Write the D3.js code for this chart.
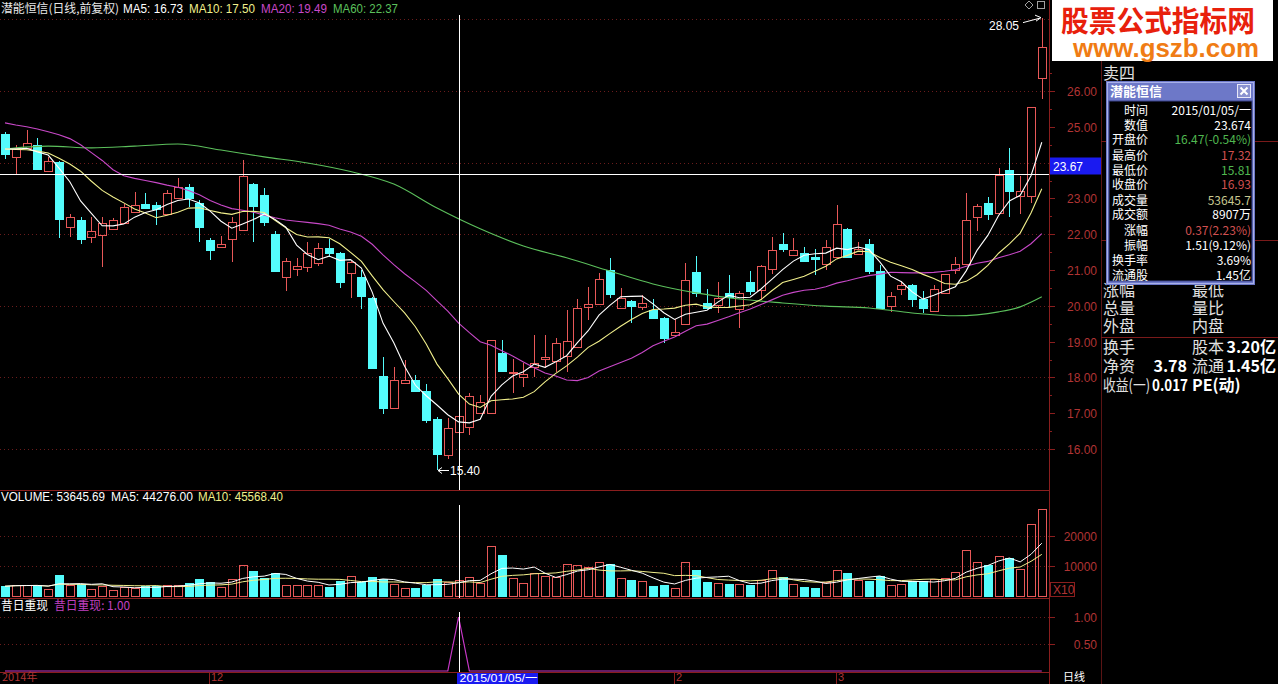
<!DOCTYPE html>
<html><head><meta charset="utf-8">
<script src="https://cdn.jsdelivr.net/npm/d3@7"></script>
<style>html,body{margin:0;padding:0;background:#000;overflow:hidden}svg{display:block}</style>
</head><body>
<svg id="c" width="1278" height="684"></svg>
<script>
// ---------- data ----------
const opens = [24.80,24.15,24.40,24.49,23.77,24.01,22.19,22.40,21.91,21.97,
22.14,22.30,22.63,22.84,22.82,22.56,23.00,23.33,22.88,21.84,
21.65,21.86,22.12,23.40,23.09,22.01,20.81,21.02,21.09,21.20,
21.62,21.48,20.91,20.81,20.23,18.05,17.15,17.84,17.93,17.62,
16.84,15.83,16.47,16.61,17.01,17.01,18.67,18.11,18.02,18.28,
18.51,18.47,18.60,18.86,19.96,20.04,21.00,19.95,20.14,19.96,
19.88,19.65,19.18,19.48,20.95,20.09,20.02,20.35,19.91,20.66,
20.44,21.02,21.73,21.42,21.48,21.37,21.18,21.36,22.15,21.46,
21.73,20.97,19.99,20.48,20.57,20.20,19.86,20.36,20.99,21.18,
22.49,22.87,22.59,23.78,23.08,23.07,26.37];
const highs = [24.85,24.50,24.91,24.68,24.16,24.05,22.56,22.49,22.47,22.47,
22.45,22.84,23.18,23.14,22.91,23.23,23.56,23.40,22.95,21.90,
21.95,22.47,24.07,23.42,23.28,22.10,21.33,21.33,21.79,21.75,
21.86,21.50,21.25,21.00,20.25,18.58,18.30,18.49,18.07,17.82,
16.90,16.86,17.32,17.57,17.51,19.05,19.04,18.51,18.41,19.18,
19.18,19.09,19.88,20.18,20.53,20.91,21.33,20.49,20.16,20.30,
20.18,19.70,19.62,21.19,21.39,20.46,20.67,20.86,20.40,20.98,
21.15,21.93,22.04,21.89,21.65,21.59,21.83,22.81,22.17,21.78,
21.87,21.13,20.38,20.69,20.62,20.41,20.59,20.90,21.36,23.15,
22.85,23.05,23.84,24.42,23.63,25.55,28.05];
const lows = [24.10,23.65,24.38,23.80,23.75,21.89,21.91,21.72,21.75,21.09,
22.12,22.28,22.60,22.70,22.26,22.54,22.98,22.77,21.79,21.28,
21.63,21.23,22.10,21.79,22.23,20.95,20.42,20.84,20.95,21.11,
21.37,20.51,20.23,19.91,18.25,16.97,17.13,17.82,17.60,16.72,
15.40,15.71,15.81,16.39,16.99,16.99,18.17,17.56,17.72,18.00,
18.25,18.16,18.16,18.84,19.60,20.02,20.21,19.93,19.53,19.88,
19.65,18.95,19.15,19.45,20.24,19.93,19.81,19.95,19.39,20.30,
20.16,20.90,21.51,21.40,21.22,20.86,20.99,21.35,21.35,21.45,
20.89,19.90,19.83,20.30,19.97,19.80,19.85,20.35,20.88,21.15,
22.09,22.39,22.55,22.47,22.57,22.87,25.77];
const closes = [24.23,24.40,24.54,23.83,24.05,22.42,22.49,21.86,22.09,22.32,
22.40,22.75,22.82,22.74,22.70,23.14,23.31,23.02,22.19,21.56,
21.73,22.33,23.63,22.79,22.35,20.97,21.25,21.12,21.47,21.62,
21.48,20.66,21.22,20.28,18.27,17.15,17.93,17.93,17.62,16.81,
15.85,16.58,16.93,17.48,17.32,19.04,18.19,18.16,18.09,18.39,
18.58,18.95,19.02,19.93,20.04,20.75,20.33,20.21,19.99,20.07,
19.67,19.09,19.28,20.72,20.35,19.95,20.21,20.24,20.37,20.42,
21.11,21.56,21.59,21.56,21.25,21.31,21.65,22.28,21.36,21.60,
20.96,19.94,20.28,20.57,20.20,19.94,20.48,20.88,21.17,22.41,
22.80,22.57,23.66,23.20,23.20,25.54,27.24];
const volumes = [32700,36000,36000,36000,24700,70000,36000,39300,24700,33700,
21300,30300,27000,32700,32700,36000,36000,42700,56300,47300,
30300,55300,103700,83300,58700,75300,38300,38300,38300,38300,
30300,49700,66300,47000,65000,56000,39300,27000,27000,38300,
57000,45400,53646,62000,41700,168000,135300,58700,45000,75300,
66300,64300,106000,103700,97000,112700,107000,58700,53000,49700,
33700,36000,28000,112700,86700,47300,44000,39300,39300,38300,
53000,86700,64300,39300,30300,27000,47300,86700,77700,53000,
49700,66300,36000,39300,50700,49700,56300,58700,78700,154300,
112700,103700,134000,128300,90000,238700,289300];
// moving-average values before enough candles are on screen
const ma5Head  = [24.38,24.38,24.40,24.30];
const ma10Head = [24.38,24.37,24.36,24.32,24.27,24.12,23.96,23.76,23.48];
const ma20Head = [25.11,25.05,25.00,24.94,24.86,24.78,24.67,24.50,24.28,24.06,
23.80,23.63,23.56,23.50,23.44,23.37,23.31,23.22,23.10];
// MA60 at these candle indices
const ma60Idx = [0,4,8,12,16,20,24,28,32,36,40,44,48,52,56,60,64,68,72,76,80,84,88,92,94,96];
const ma60Val = [24.38,24.46,24.41,24.46,24.52,24.35,24.16,23.99,23.75,23.40,22.73,22.15,21.67,21.34,20.97,20.61,20.36,20.19,20.08,19.99,19.94,19.80,19.72,19.83,19.97,20.25];
// 昔日重现 signal
const signal = [0,0,0,0,0,0,0,0,0,0,
0,0,0,0,0,0,0,0,0,0,
0,0,0,0,0,0,0,0,0,0,
0,0,0,0,0,0,0,0,0,0,
0,0,1,0,0,0,0,0,0,0,
0,0,0,0,0,0,0,0,0,0,
0,0,0,0,0,0,0,0,0,0,
0,0,0,0,0,0,0,0,0,0,
0,0,0,0,0,0,0,0,0,0,
0,0,0,0,0,0,0];
const priceTicks = [16,17,18,19,20,21,22,23,24,25,26];
const priceGrid = [16,18,20,22,24,26,28];
const volTicks = [10000,20000];   // axis labels (x10)
const indTicks = [0.5,1];
const monthTicks = [{i:19,t:"12"},{i:62,t:"2"},{i:77,t:"3"}];
const crossIdx = 42, crossVal = 23.674;
const hiIdx = 96, loIdx = 40;

// ---------- setup ----------
const svg = d3.select('#c');
const N = closes.length;
const x = d3.scaleLinear().domain([0, N-1]).range([5, 1041.8]);
const cx = i => Math.round(x(i));
const y = d3.scaleLinear().domain([16, 26]).range([449, 91]);
const yv = d3.scaleLinear().domain([0, 200000]).range([596, 536]);
const yi = d3.scaleLinear().domain([0, 1]).range([671, 617]);

const UP = '#e85858', DN = '#54fcfc', AX = '#8a1e1e', AXT = '#b03434', GRID = '#6a1c1c';
const FONT = "'Liberation Sans','Noto Sans CJK SC',sans-serif";
const CJK = "'Noto Sans CJK SC','Liberation Sans',sans-serif";

svg.append('rect').attr('width',1278).attr('height',684).attr('fill','#000');

function txt(g, s, X, Y, fill, opts={}) {
  const t = g.append('text').attr('x',X).attr('y',Y).attr('fill',fill)
    .attr('font-family', opts.family || FONT).attr('font-size', opts.size || 12)
    .text(s);
  if (opts.anchor) t.attr('text-anchor', opts.anchor);
  if (opts.weight) t.attr('font-weight', opts.weight);
  if (opts.len) t.attr('textLength', opts.len).attr('lengthAdjust','spacingAndGlyphs');
  return t;
}
function hline(g, x1, x2, Y, stroke, dash) {
  const l = g.append('line').attr('x1',x1).attr('x2',x2).attr('y1',Y).attr('y2',Y)
    .attr('stroke',stroke).attr('stroke-width',1).attr('shape-rendering','crispEdges');
  if (dash) l.attr('stroke-dasharray', dash);
  return l;
}
function vline(g, X, y1, y2, stroke) {
  return g.append('line').attr('x1',X).attr('x2',X).attr('y1',y1).attr('y2',y2)
    .attr('stroke',stroke).attr('stroke-width',1).attr('shape-rendering','crispEdges');
}
function movAvg(arr, n, head) {
  return arr.map((v,i) => {
    if (head && i < head.length) return head[i];
    const s = arr.slice(Math.max(0, i-n+1), i+1);
    return d3.mean(s);
  });
}

// ---------- grids & frames ----------
const gGrid = svg.append('g');
priceGrid.forEach(p => hline(gGrid, 0, 1049, Math.round(y(p))+0.5, GRID, '1 3'));
volTicks.forEach(v => hline(gGrid, 0, 1049, Math.round(yv(v*10))+0.5, GRID, '1 3'));
indTicks.forEach(v => hline(gGrid, 0, 1049, Math.round(yi(v))+0.5, GRID, '1 3'));

const gFrame = svg.append('g');
hline(gFrame, 0, 1049, 490.5, AX);
hline(gFrame, 0, 1049, 598.5, AX);
hline(gFrame, 0, 1049, 672.5, AX);
vline(gFrame, 1049.5, 0, 684, AX);
vline(gFrame, 1101.5, 0, 684, '#5a1414');

// ---------- price panel ----------
const gC = svg.append('g');
d3.range(N).forEach(i => {
  const up = closes[i] >= opens[i];
  const X = cx(i);
  const yo = y(opens[i]), yc = y(closes[i]), yh = y(highs[i]), yl = y(lows[i]);
  const top = Math.round(Math.min(yo,yc)), bot = Math.round(Math.max(yo,yc));
  const h = Math.max(1, bot-top);
  if (up) {
    vline(gC, X+0.5, yh, top, UP);
    vline(gC, X+0.5, top+h, yl, UP);
    gC.append('rect').attr('x',X-4+0.5).attr('y',top+0.5).attr('width',8).attr('height',h)
      .attr('fill','none').attr('stroke',UP).attr('shape-rendering','crispEdges');
  } else {
    vline(gC, X+0.5, yh, yl, DN);
    gC.append('rect').attr('x',X-4).attr('y',top).attr('width',9).attr('height',h+1)
      .attr('fill',DN).attr('shape-rendering','crispEdges');
  }
});

const ma5 = movAvg(closes, 5, ma5Head);
const ma10 = movAvg(closes, 10, ma10Head);
const ma20 = movAvg(closes, 20, ma20Head);
const lineP = d3.line().x((d,i)=>x(i)).y(d=>y(d));
const gMA = svg.append('g').attr('fill','none').attr('stroke-width',1.1);
gMA.append('path').attr('d', d3.line().x(d=>x(d[0])).y(d=>y(d[1])).curve(d3.curveMonotoneX)(ma60Idx.map((k,j)=>[k,ma60Val[j]]))).attr('stroke','#5cc05c');
gMA.append('path').attr('d', lineP(ma20)).attr('stroke','#c848c8');
gMA.append('path').attr('d', lineP(ma10)).attr('stroke','#f2f08c');
gMA.append('path').attr('d', lineP(ma5)).attr('stroke','#ffffff');

// high / low annotations
const gAnn = svg.append('g');
const hx = cx(hiIdx), hy = y(highs[hiIdx]);
txt(gAnn, highs[hiIdx].toFixed(2), hx-53, hy+12, '#ffffff');
gAnn.append('line').attr('x1',hx-19).attr('y1',hy+5).attr('x2',hx-2).attr('y2',hy+0.5).attr('stroke','#fff');
gAnn.append('path').attr('d',`M${hx-1},${hy} l-6,-2.5 M${hx-1},${hy} l-5,3.5`).attr('stroke','#fff').attr('fill','none');
const lx = cx(loIdx), ly = Math.round(y(lows[loIdx]))+0.5;
gAnn.append('line').attr('x1',lx+1).attr('y1',ly).attr('x2',lx+12).attr('y2',ly).attr('stroke','#fff');
gAnn.append('path').attr('d',`M${lx+1},${ly} l4,-3 M${lx+1},${ly} l4,3`).attr('stroke','#fff').attr('fill','none');
txt(gAnn, lows[loIdx].toFixed(2), lx+13, ly+4.5, '#ffffff');

// ---------- volume panel ----------
const gV = svg.append('g');
d3.range(N).forEach(i => {
  const up = closes[i] >= opens[i];
  const X = cx(i);
  const t = Math.round(yv(volumes[i]));
  if (up) {
    gV.append('rect').attr('x',X-4+0.5).attr('y',t+0.5).attr('width',8).attr('height',596-t)
      .attr('fill','none').attr('stroke',UP).attr('shape-rendering','crispEdges');
  } else {
    gV.append('rect').attr('x',X-4).attr('y',t).attr('width',9).attr('height',597-t)
      .attr('fill',DN).attr('shape-rendering','crispEdges');
  }
});
const vma5 = movAvg(volumes, 5), vma10 = movAvg(volumes, 10);
const lineV = d3.line().x((d,i)=>x(i)).y(d=>yv(d));
gV.append('path').attr('d', lineV(vma10)).attr('stroke','#f2f08c').attr('fill','none');
gV.append('path').attr('d', lineV(vma5)).attr('stroke','#ffffff').attr('fill','none');

// ---------- indicator panel ----------
const gI = svg.append('g');
gI.append('path').attr('d', d3.line().x((d,i)=>x(i)).y(d=>yi(d))(signal))
  .attr('stroke','#c838c8').attr('fill','none').attr('stroke-width',1.2);

// ---------- crosshair ----------
const gX = svg.append('g');
const CX = cx(crossIdx)+0.5, CY = Math.round(y(crossVal))+0.5;
vline(gX, CX, 15, 490, '#ffffff');
vline(gX, CX, 505, 598, '#ffffff');
vline(gX, CX, 612, 672, '#ffffff');
hline(gX, 0, 1049, CY, '#ffffff');

// ---------- headers ----------
const gH = svg.append('g');
txt(gH, '潜能恒信(日线,前复权)', 1, 13, '#e8e8e8', {family:CJK, len:118});
txt(gH, 'MA5: 16.73', 123, 13, '#ffffff', {len:60});
txt(gH, 'MA10: 17.50', 189, 13, '#f2f08c', {len:66});
txt(gH, 'MA20: 19.49', 261, 13, '#c848c8', {len:66});
txt(gH, 'MA60: 22.37', 333, 13, '#5cc05c', {len:65});
txt(gH, 'VOLUME: 53645.69', 1, 501, '#ffffff', {len:104});
txt(gH, 'MA5: 44276.00', 111, 501, '#ffffff', {len:82});
txt(gH, 'MA10: 45568.40', 198, 501, '#f2f08c', {len:85});
txt(gH, '昔日重现', 1, 610, '#ffffff', {family:CJK, len:47});
txt(gH, '昔日重现: 1.00', 54, 610, '#c040c0', {family:CJK, len:76});
// top-right small icons
gH.append('path').attr('d','M1029,1 l4,4 l-4,4 l-4,-4 z').attr('fill','none').attr('stroke','#a0a0a0');
gH.append('rect').attr('x',1037.5).attr('y',1.5).attr('width',7).attr('height',7).attr('fill','none').attr('stroke','#a0a0a0');

// ---------- right axes ----------
const gA = svg.append('g');
priceTicks.forEach(p => {
  const Y = Math.round(y(p))+0.5;
  hline(gA, 1049, 1055, Y, AX);
  // the current-value box covers a label that falls under it
  if (Math.abs(Y - (CY - 8)) > 12) txt(gA, p.toFixed(2), 1097, Y+4.5, AXT, {anchor:'end'});
});
priceTicks.forEach(p => hline(gA, 1049, 1052, Math.round(y(p+0.5))+0.5, AX));
volTicks.forEach(v => {
  const Y = Math.round(yv(v*10))+0.5;
  hline(gA, 1049, 1055, Y, AX);
  txt(gA, String(v), 1097, Y+4.5, AXT, {anchor:'end'});
});
gA.append('rect').attr('x',1050.5).attr('y',582.5).attr('width',24).attr('height',14).attr('fill','#000').attr('stroke',AX);
txt(gA, 'X10', 1053, 594, AXT);
indTicks.forEach(v => {
  const Y = Math.round(yi(v))+0.5;
  hline(gA, 1049, 1055, Y, AX);
  txt(gA, v.toFixed(2), 1097, Y+4.5, AXT, {anchor:'end'});
});
// current value box
gA.append('rect').attr('x',1050).attr('y',CY-17).attr('width',51).attr('height',17).attr('fill','#1a1af0');
txt(gA, crossVal.toFixed(2), 1053, CY-4, '#ffffff');

// ---------- time axis ----------
const gT = svg.append('g');
txt(gT, '2014年', 2, 681, AXT, {family:CJK, size:11});
monthTicks.forEach(m => {
  vline(gT, cx(m.i)-0.5, 673, 684, AX);
  txt(gT, m.t, cx(m.i)+1, 681, AXT, {size:11});
});
gT.append('rect').attr('x',CX-2.5).attr('y',673).attr('width',81).attr('height',11).attr('fill','#1a1af0');
txt(gT, '2015/01/05/一', CX, 682, '#ffffff', {len:78, size:11});
txt(gT, '日线', 1063, 681, '#ffffff', {family:CJK, size:11});

// ---------- right info panel ----------
const gR = svg.append('g').attr('font-family', CJK);
const leftRows = [['卖四',73],['涨幅',290],['总量',308],['外盘',326],['换手',347],['净资',366]];
const rightRows = [['最低',290],['量比',308],['内盘',326],['股本',347],['流通',366]];
leftRows.forEach(r => txt(gR, r[0], 1103, r[1]+6, '#e0e0e0', {family:CJK, size:16}));
rightRows.forEach(r => txt(gR, r[0], 1192, r[1]+6, '#e0e0e0', {family:CJK, size:16}));
txt(gR, '收益(一)', 1103, 391, '#e0e0e0', {family:CJK, size:16, len:47});
hline(gR, 1101, 1278, 141.5, '#7a1a1a');
hline(gR, 1101, 1278, 240.5, '#7a1a1a');
hline(gR, 1101, 1278, 337.5, '#7a1a1a');
txt(gR, '3.20亿', 1276, 353, '#ffffff', {family:CJK, size:16, anchor:'end', weight:'bold'});
txt(gR, '3.78', 1187, 372, '#ffffff', {family:CJK, size:16, anchor:'end', weight:'bold'});
txt(gR, '1.45亿', 1276, 372, '#ffffff', {family:CJK, size:16, anchor:'end', weight:'bold'});
txt(gR, '0.017', 1188, 391, '#ffffff', {family:CJK, size:16, anchor:'end', weight:'bold', len:36});
txt(gR, 'PE(动)', 1192, 391, '#ffffff', {family:CJK, size:16, weight:'bold'});

// ---------- watermark ----------
const gW = svg.append('g');
gW.append('rect').attr('x',1052).attr('y',0).attr('width',221).attr('height',61).attr('fill','#ffffff');
txt(gW, '股票公式指标网', 1061, 32, '#e8200c', {family:CJK, size:29, weight:'bold', len:194});
txt(gW, 'www.gszb.com', 1073, 57, '#f07c14', {family:"'Liberation Sans',sans-serif", size:26, weight:'bold', len:186});

// ---------- popup ----------
const gP = svg.append('g');
gP.append('rect').attr('x',1106).attr('y',81).attr('width',149).attr('height',204).attr('fill','#6d78c8');
gP.append('rect').attr('x',1107.5).attr('y',82.5).attr('width',146).attr('height',201).attr('fill','none').attr('stroke','#a8b0e8');
gP.append('rect').attr('x',1109).attr('y',101).attr('width',143).attr('height',180).attr('fill','#000').attr('stroke','#3a428a');
txt(gP, '潜能恒信', 1110, 96, '#ffffff', {family:CJK, size:13, weight:'bold'});
gP.append('rect').attr('x',1237.5).attr('y',84.5).attr('width',13).attr('height',13).attr('fill','#8a92d0').attr('stroke','#e8e8f8');
gP.append('path').attr('d','M1240.5,87.5 l7,7 M1247.5,87.5 l-7,7').attr('stroke','#ffffff').attr('stroke-width',2);
const popLabels = ['时间','数值','开盘价','最高价','最低价','收盘价','成交量','成交额','涨幅','振幅','换手率','流通股'];
const popValues = ['2015/01/05/一','23.674','16.47(-0.54%)','17.32','15.81','16.93','53645.7','8907万','0.37(2.23%)','1.51(9.12%)','3.69%','1.45亿'];
const popColors = ['#ffffff','#ffffff','#50b850','#d05050','#50b850','#d05050','#c8c890','#ffffff','#d05050','#ffffff','#ffffff','#ffffff'];
const popY = [110,125,139,155,170,184,200,214,230,245,260,275];
popLabels.forEach((l,k) => {
  txt(gP, l, 1148, popY[k]+5, '#ffffff', {family:CJK, size:12, anchor:'end'});
  txt(gP, popValues[k], 1251, popY[k]+5, popColors[k], {family:CJK, size:12, anchor:'end'});
});
</script>
</body></html>
